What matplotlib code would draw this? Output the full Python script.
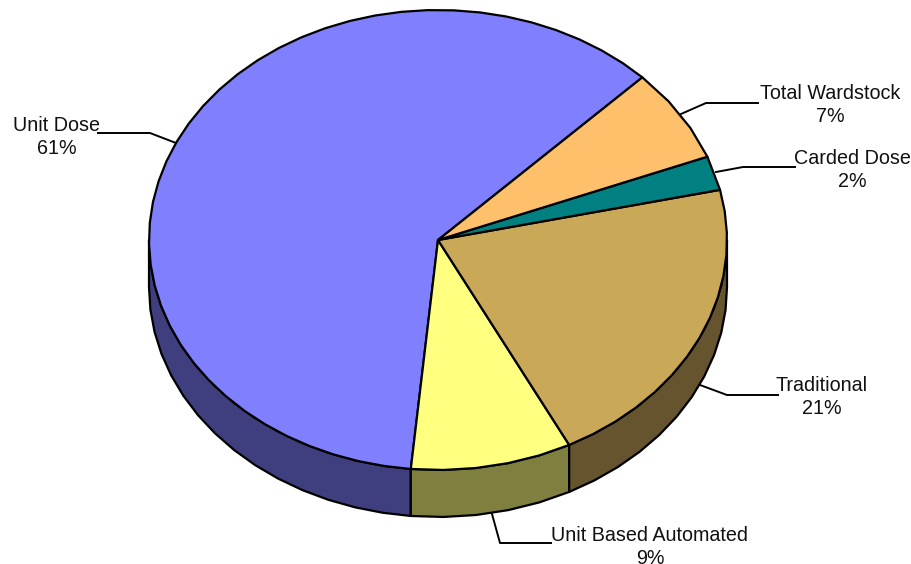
import numpy as np
import matplotlib
matplotlib.use('Agg')
import matplotlib.pyplot as plt
from matplotlib.patches import Polygon

plt.rcParams['font.family'] = ['Liberation Sans', 'DejaVu Sans']

# Slices, counter clockwise from the Unit Dose / Total Wardstock edge
labels = ['Unit Dose', 'Unit Based Automated', 'Traditional', 'Carded Dose', 'Total Wardstock']
values = [61, 9, 21, 2.4, 6.6]
top_colors = ['#8080FF', '#FFFF80', '#C9A858', '#008080', '#FFC06C']
side_colors = ['#3F3F7F', '#7F7F3F', '#65542D', '#004040', '#7F6035']

# Pie geometry in image pixels
cx, cy = 438, 240
rx, ry = 289, 230
depth = 47
start_angle = 45


def ellipse_points(a1, a2, dy=0):
    # coarse steps, the original outline is a bit polygonal
    t = np.radians(np.linspace(a1, a2, max(int(abs(a2 - a1) / 5), 2)))
    return np.column_stack([cx + rx * np.cos(t), cy + dy - ry * np.sin(t)])


fig = plt.figure(figsize=(9.12, 5.64), dpi=100)
ax = fig.add_axes([0, 0, 1, 1])
ax.set_xlim(0, 912)
ax.set_ylim(564, 0)
ax.axis('off')

edges = start_angle + np.cumsum([0] + values) * 3.6

# side wall first, only the part facing down is visible
for i in range(len(values)):
    a1 = max(edges[i], 180)
    a2 = min(edges[i + 1], 360)
    if a2 > a1:
        front = ellipse_points(a1, a2)
        back = ellipse_points(a2, a1, depth)
        ax.add_patch(Polygon(np.vstack([front, back]), closed=True, facecolor=side_colors[i],
                             edgecolor='black', lw=1.6, joinstyle='round'))

# top of the pie
for i in range(len(values)):
    arc = ellipse_points(edges[i], edges[i + 1])
    ax.add_patch(Polygon(np.vstack([[cx, cy], arc]), closed=True, facecolor=top_colors[i],
                         edgecolor='black', lw=1.6, joinstyle='round'))

# leader lines
leaders = [
    ([176, 150, 98], [143, 133, 133]),
    ([492, 500, 551], [514, 543, 543]),
    ([700, 727, 778], [385, 395, 395]),
    ([716, 743, 795], [172, 167, 167]),
    ([681, 706, 758], [114, 103, 103]),
]
for xs, ys in leaders:
    ax.plot(xs, ys, color='black', lw=1.4)

# labels, the bottom one runs off the image in the original too
text_pos = [(57, 137), (650, 547), (822, 397), (852, 170), (830, 105)]
for (x, y), name, v in zip(text_pos, labels, values):
    ax.text(x, y, f'{name}\n{v:.0f}%', ha='center', va='center', fontsize=14.2, color='#111111',
            linespacing=1.33)

fig.savefig('out.png', dpi=100)
